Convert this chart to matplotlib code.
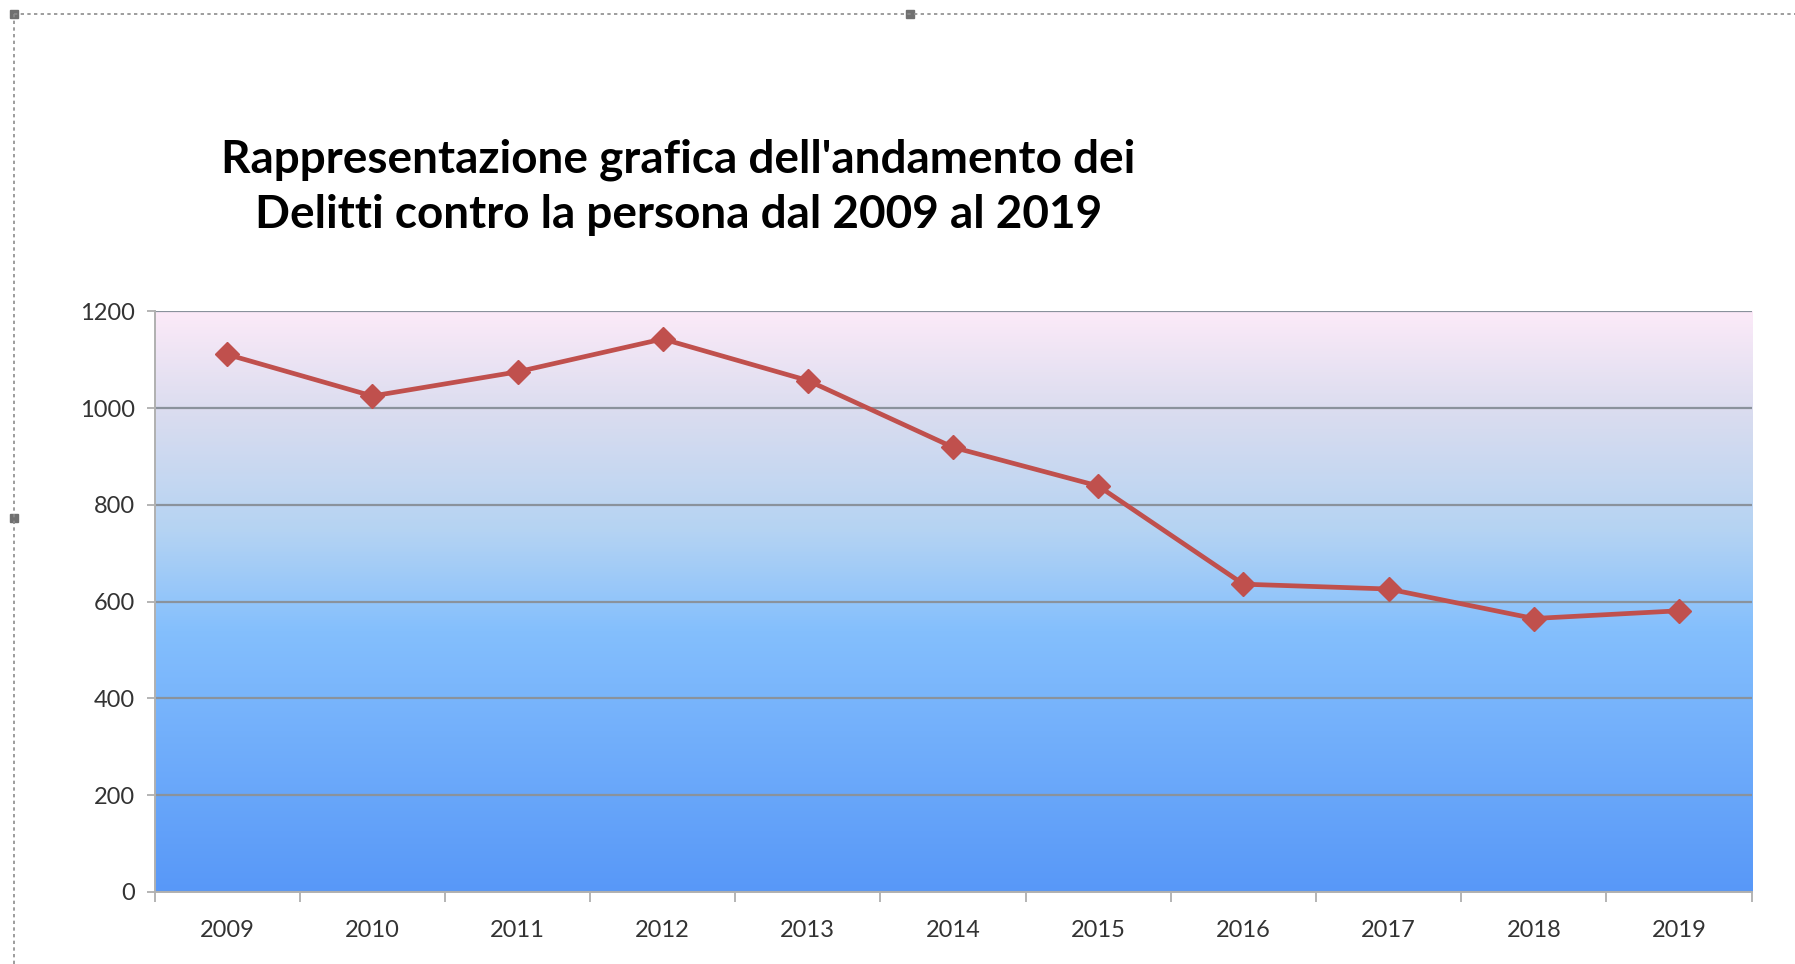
import matplotlib.pyplot as plt
import numpy as np
from matplotlib.colors import LinearSegmentedColormap
from matplotlib.lines import Line2D
from matplotlib.patches import Rectangle

# Delitti contro la persona 2009-2019
anni = ['2009', '2010', '2011', '2012', '2013', '2014', '2015', '2016', '2017', '2018', '2019']
delitti = [1111, 1025, 1075, 1143, 1057, 919, 839, 636, 626, 565, 581]
yticks = [0, 200, 400, 600, 800, 1000, 1200]
titolo = "Rappresentazione grafica dell'andamento dei\nDelitti contro la persona dal 2009 al 2019"

plt.rcParams['font.family'] = ['Lato', 'DejaVu Sans']

fig = plt.figure(figsize=(17.95, 9.64), dpi=100)
ax = fig.add_axes([0.0861, 0.0749, 0.8897, 0.6021])

# gradient background, pink at top -> blue at bottom
grad = LinearSegmentedColormap.from_list('bg', [
    (0.0, '#5898F8'), (0.45, '#84BFFD'), (0.62, '#B4D3F3'),
    (0.82, '#D9DCEF'), (1.0, '#FCEAF8')])
ax.imshow(np.linspace(0, 1, 256).reshape(-1, 1), cmap=grad, origin='lower',
          extent=[-0.5, len(anni) - 0.5, 0, 1200], aspect='auto', zorder=0)

x = np.arange(len(anni))
ax.plot(x, delitti, color='#C0504D', lw=3.4, marker='D', ms=12,
        markeredgecolor='#C0504D', zorder=3)

ax.set_xlim(-0.5, len(anni) - 0.5)
ax.set_ylim(0, 1200)
ax.set_yticks(yticks)
ax.set_xticks(x)
ax.set_xticklabels(anni)
ax.set_xticks(np.arange(len(anni) + 1) - 0.5, minor=True)

ax.set_axisbelow(True)
ax.yaxis.grid(True, color='#8A929C', lw=1.6)
ax.xaxis.grid(False)

ax.tick_params(axis='x', which='major', length=0, pad=20, labelsize=17, labelcolor='#333333')
ax.tick_params(axis='x', which='minor', length=7, width=1.2, color='#A8A8A8', direction='out')
ax.tick_params(axis='y', length=6, width=1.2, color='#A8A8A8', labelsize=17,
               labelcolor='#333333', pad=8)

for s in ['top', 'right']:
    ax.spines[s].set_visible(False)
for s in ['left', 'bottom']:
    ax.spines[s].set_color('#B0B0B0')
    ax.spines[s].set_linewidth(1.4)

fig.text(0.378, 0.806, titolo, ha='center', va='center', fontsize=33,
         fontweight='bold', linespacing=1.38, color='black')

# dashed selection frame of the chart object
fig.add_artist(Line2D([0.0078, 1.0], [0.9855, 0.9855], transform=fig.transFigure,
                      color='#8C8C8C', lw=1.2, ls=(0, (2, 2))))
fig.add_artist(Line2D([0.0078, 0.0078], [0.0, 0.9855], transform=fig.transFigure,
                      color='#8C8C8C', lw=1.2, ls=(0, (2, 2))))
for hx, hy in [(0.0078, 0.9855), (0.507, 0.9855), (0.0078, 0.4625)]:
    fig.add_artist(Rectangle((hx - 0.002, hy - 0.004), 0.004, 0.008,
                             transform=fig.transFigure, color='#707070'))

fig.savefig('out.png', dpi=100)
